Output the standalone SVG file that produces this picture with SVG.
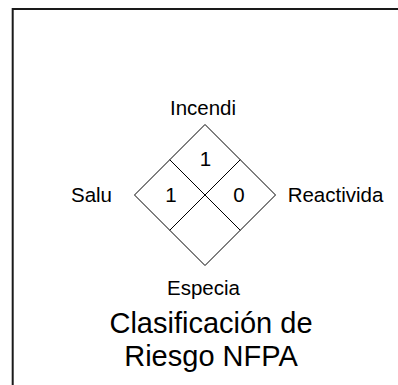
<svg xmlns="http://www.w3.org/2000/svg" width="398" height="385" viewBox="0 0 398 385">
  <style>
    .t { font-family: "Liberation Sans", Arial, sans-serif; fill: #000; text-anchor: middle; }
    .lbl { font-size: 20.5px; }
    .ttl { font-size: 29px; }
    .ln { fill: none; stroke: #000; stroke-width: 1; }
    .frame { fill: none; stroke: #1a1a1a; stroke-width: 2; }
  </style>
  <rect width="398" height="385" fill="#fff"/>
  <g id="frame">
    <path class="frame" d="M12.7 385 V9 H398"/>
  </g>
  <g id="diamond">
    <polygon class="ln" points="205,124.5 275.5,195 205,265.5 134.5,195"/>
  </g>
  <g id="connectors">
    <line class="ln" x1="169.75" y1="159.75" x2="240.25" y2="230.25"/>
    <line class="ln" x1="240.25" y1="159.75" x2="169.75" y2="230.25"/>
  </g>
  <g id="incendio">
    <text class="t lbl" x="203" y="115">Incendi</text>
    <text class="t lbl" x="205.5" y="165.5">1</text>
  </g>
  <g id="salud">
    <text class="t lbl" x="91.5" y="202">Salu</text>
    <text class="t lbl" x="171" y="202">1</text>
  </g>
  <g id="reactividad">
    <text class="t lbl" x="335.5" y="202">Reactivida</text>
    <text class="t lbl" x="239" y="202">0</text>
  </g>
  <g id="especial">
    <text class="t lbl" x="203.5" y="295">Especia</text>
  </g>
  <g id="title">
    <text class="t ttl" x="211" y="333">Clasificación de</text>
    <text class="t ttl" x="211" y="366">Riesgo NFPA</text>
  </g>
</svg>
